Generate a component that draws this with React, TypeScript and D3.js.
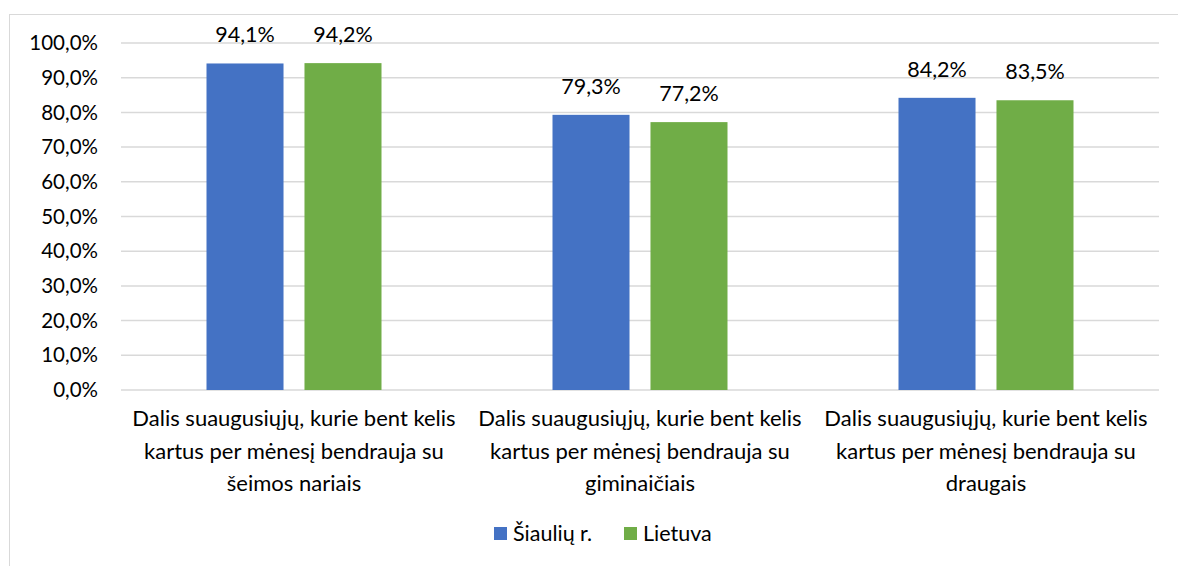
import React, { useEffect, useRef } from 'react'
import * as d3 from 'd3'

const categories = [
  'Dalis suaugusiųjų, kurie bent kelis kartus per mėnesį bendrauja su šeimos nariais',
  'Dalis suaugusiųjų, kurie bent kelis kartus per mėnesį bendrauja su giminaičiais',
  'Dalis suaugusiųjų, kurie bent kelis kartus per mėnesį bendrauja su draugais',
]
const categoryLines = [
  ['Dalis suaugusiųjų, kurie bent kelis', 'kartus per mėnesį bendrauja su', 'šeimos nariais'],
  ['Dalis suaugusiųjų, kurie bent kelis', 'kartus per mėnesį bendrauja su', 'giminaičiais'],
  ['Dalis suaugusiųjų, kurie bent kelis', 'kartus per mėnesį bendrauja su', 'draugais'],
]
const seriesNames = ['Šiaulių r.', 'Lietuva']
const siauliuValues = [94.1, 79.3, 84.2]
const lietuvaValues = [94.2, 77.2, 83.5]
const yTicks = [0, 10, 20, 30, 40, 50, 60, 70, 80, 90, 100]
const colors = ['#4472C4', '#70AD47']

const fmt = (v: number) => v.toFixed(1).replace('.', ',') + '%'

const App = () => {
  const ref = useRef<SVGSVGElement>(null)
  const width = 1178
  const height = 566

  useEffect(() => {
    const svg = d3.select(ref.current)
    svg.selectAll('*').remove()
    const font = 'Lato, "Open Sans", sans-serif'

    // outer chart border
    svg.append('rect')
      .attr('x', 9.5).attr('y', 14.5)
      .attr('width', 1200).attr('height', 600)
      .attr('fill', 'white').attr('stroke', '#d9d9d9')

    const left = 121, right = 1159, top = 43, bottom = 390
    const y = d3.scaleLinear().domain([0, 100]).range([bottom, top])
    const x = d3.scaleBand<string>().domain(categories).range([left, right])
    const xs = d3.scaleBand<string>().domain(seriesNames)
      .range([85.5, x.bandwidth() - 85.5]).paddingInner(0.214)

    // gridlines
    svg.append('g').selectAll('line').data(yTicks).join('line')
      .attr('x1', left).attr('x2', right)
      .attr('y1', d => y(d)).attr('y2', d => y(d))
      .attr('stroke', '#d9d9d9').attr('stroke-width', 1.5)

    // y tick labels
    svg.append('g').selectAll('text').data(yTicks).join('text')
      .attr('x', 98).attr('y', d => y(d)).attr('dy', '0.35em')
      .attr('text-anchor', 'end')
      .style('font-family', font).style('font-size', '20.5px').attr('fill', '#000')
      .text(d => fmt(d))

    const data = categories.flatMap((c, i) => [
      { c, s: seriesNames[0], v: siauliuValues[i], col: colors[0] },
      { c, s: seriesNames[1], v: lietuvaValues[i], col: colors[1] },
    ])

    // bars
    svg.append('g').selectAll('rect').data(data).join('rect')
      .attr('x', d => (x(d.c) as number) + (xs(d.s) as number))
      .attr('y', d => y(d.v))
      .attr('width', xs.bandwidth())
      .attr('height', d => bottom - y(d.v))
      .attr('fill', d => d.col)

    // value labels
    svg.append('g').selectAll('text').data(data).join('text')
      .attr('x', d => (x(d.c) as number) + (xs(d.s) as number) + xs.bandwidth() / 2)
      .attr('y', d => y(d.v) - 21)
      .attr('text-anchor', 'middle')
      .style('font-family', font).style('font-size', '21.5px').attr('fill', '#000')
      .text(d => fmt(d.v))

    // category labels
    const cg = svg.append('g').selectAll('text').data(categories).join('text')
      .attr('text-anchor', 'middle')
      .style('font-family', font).style('font-size', '22px').attr('fill', '#000')
    cg.each(function (d, i) {
      const t = d3.select(this)
      categoryLines[i].forEach((line, j) => {
        t.append('tspan')
          .attr('x', (x(d) as number) + x.bandwidth() / 2)
          .attr('y', 426 + j * 32.5)
          .text(line)
      })
    })

    // legend
    const legend = svg.append('g')
    const lx = [494, 624]
    seriesNames.forEach((s, i) => {
      legend.append('rect')
        .attr('x', lx[i]).attr('y', 527).attr('width', 13).attr('height', 13)
        .attr('fill', colors[i])
      legend.append('text')
        .attr('x', lx[i] + 19).attr('y', 541)
        .style('font-family', font).style('font-size', '21.5px').attr('fill', '#000')
        .text(s)
    })
  })

  return (
    <svg ref={ref} width={width} height={height}
      style={{ position: 'absolute', left: 0, top: 0, display: 'block' }}></svg>
  )
}

export default App
